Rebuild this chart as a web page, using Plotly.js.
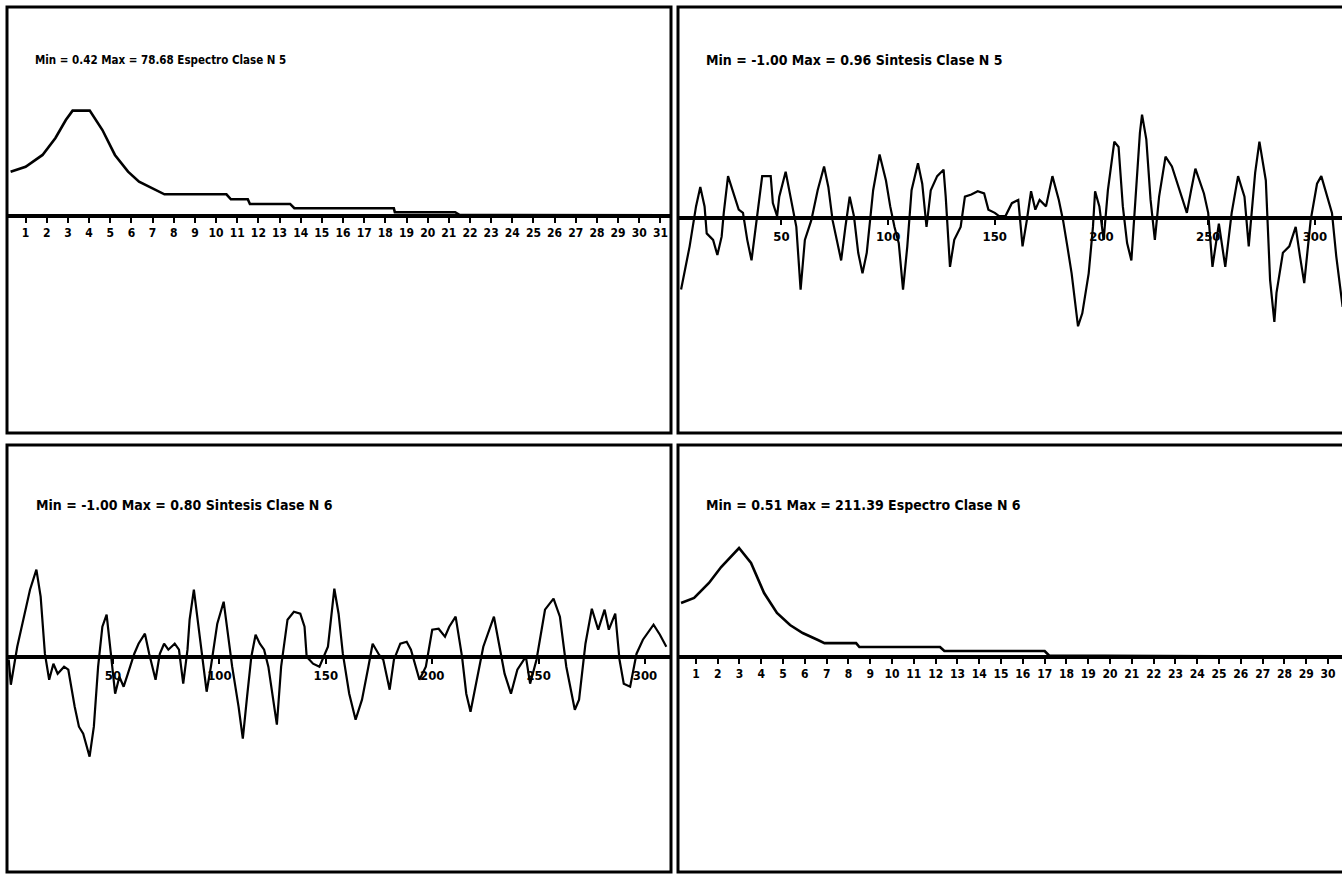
<!DOCTYPE html>
<html><head><meta charset="utf-8">
<script src="https://cdn.plot.ly/plotly-3.0.1.min.js"></script>
<style>html,body{margin:0;padding:0;background:#fff;overflow:hidden}</style>
</head><body><div id="chart" style="width:1342px;height:874px"></div>
<script>
// ---------- data ----------
const titles = [
  "Min = 0.42 Max = 78.68 Espectro Clase N 5",
  "Min = -1.00 Max = 0.96 Sintesis Clase N 5",
  "Min = -1.00 Max = 0.80 Sintesis Clase N 6",
  "Min = 0.51 Max = 211.39 Espectro Clase N 6"
];
// Espectro Clase N 5 (top left)
const spec5X = [0.29,1.0,1.8,2.41,2.9,3.22,4.03,4.63,5.22,5.84,6.36,6.85,7.25,7.56,10.49,10.7,11.5,11.6,13.5,13.7,18.4,18.45,21.3,21.5,31.4];
const spec5Y = [33.1,36.8,45.6,58.3,71.7,78.68,78.68,64.2,45.6,33.1,25.6,21.9,18.9,16.2,16.2,12.5,12.5,9.0,9.0,5.8,5.8,2.8,2.8,0.9,0.42];
// Espectro Clase N 6 (bottom right)
const spec6X = [0.32,0.92,1.6,2.16,2.98,3.53,4.13,4.72,5.32,5.9,6.6,6.9,8.35,8.5,12.2,12.4,17.0,17.2,30.7];
const spec6Y = [104.7,114.4,143.5,174.5,211.39,182.3,124,85.3,62,46.5,33,27,27,19.4,19.4,11.6,11.6,3,0.51];
// Sintesis Clase N 5 (top right)
const sin5X = [3,7,10,12,14,15,18,20,22,23,
 25,28,30,32,34,36,38,40,41,45,
 46,48,49,52,55,57,59,61,64,67,
 70,72,74,78,80,82,84,86,88,90,
 93,96,99,101,103,105,107,109,111,114,
 116,118,120,123,126,127,129,131,134,136,
 139,142,145,147,150,152,155,158,161,163,
 165,167,169,171,174,177,180,182,184,186,
 189,191,194,196,197,199,201,203,206,208,
 210,212,214,216,218,219,221,223,225,227,
 230,233,236,238,240,242,244,248,250,252,
 255,258,261,264,267,269,272,274,277,279,
 281,282,285,288,291,293,295,298,301,303,
 305,308,310,313];
const sin5Y = [-0.66,-0.26,0.11,0.29,0.11,-0.14,-0.20,-0.34,-0.17,0.05,
 0.39,0.20,0.08,0.05,-0.20,-0.39,-0.08,0.23,0.39,0.39,
 0.14,0.02,0.20,0.43,0.11,-0.08,-0.66,-0.20,-0.02,0.26,
 0.48,0.29,-0.02,-0.39,-0.08,0.20,0.02,-0.32,-0.51,-0.32,
 0.26,0.59,0.35,0.11,-0.08,-0.23,-0.66,-0.26,0.26,0.51,
 0.32,-0.08,0.26,0.39,0.45,0.20,-0.45,-0.20,-0.08,0.20,
 0.22,0.25,0.23,0.08,0.05,0.02,0.02,0.14,0.17,-0.26,
 -0.02,0.25,0.08,0.17,0.11,0.39,0.17,-0.02,-0.26,-0.51,
 -1.00,-0.88,-0.51,-0.08,0.25,0.11,-0.20,0.26,0.71,0.66,
 0.11,-0.23,-0.39,0.17,0.79,0.96,0.73,0.17,-0.20,0.20,
 0.57,0.48,0.29,0.17,0.05,0.26,0.46,0.23,0.05,-0.45,
 -0.05,-0.45,0.05,0.39,0.20,-0.26,0.42,0.71,0.35,-0.57,
 -0.96,-0.69,-0.32,-0.26,-0.08,-0.35,-0.60,-0.02,0.32,0.39,
 0.26,0.05,-0.35,-0.82];
// Sintesis Clase N 6 (bottom left)
const sin6X = [1,2,5,8,11,14,16,18,20,22,
 24,27,29,32,34,36,39,41,43,45,
 47,49,51,53,55,57,60,62,65,67,
 70,72,74,76,79,81,83,85,86,88,
 90,92,94,96,99,102,104,106,109,111,
 113,115,117,119,121,123,127,129,132,135,
 138,140,141,144,147,151,154,156,158,161,
 164,167,170,172,175,177,180,182,185,188,
 190,192,194,197,200,203,206,208,211,214,
 216,218,221,224,229,231,234,237,240,244,
 246,249,253,257,260,263,267,269,272,275,
 278,281,283,286,288,290,293,296,299,304,
 307,310];
const sin6Y = [-0.03,-0.28,0.10,0.37,0.67,0.87,0.60,0.03,-0.23,-0.07,
 -0.17,-0.10,-0.13,-0.50,-0.70,-0.77,-1.00,-0.70,-0.10,0.30,
 0.42,0.03,-0.37,-0.20,-0.30,-0.17,0.03,0.13,0.23,0.03,
 -0.23,0.03,0.13,0.07,0.13,0.07,-0.27,0.07,0.37,0.67,
 0.33,-0.03,-0.35,-0.10,0.33,0.55,0.20,-0.10,-0.50,-0.82,
 -0.40,0.00,0.22,0.13,0.07,-0.10,-0.68,-0.10,0.37,0.45,
 0.43,0.30,0.00,-0.07,-0.10,0.10,0.68,0.43,0.03,-0.37,
 -0.63,-0.43,-0.10,0.13,0.02,-0.03,-0.33,-0.03,0.13,0.15,
 0.07,-0.07,-0.23,-0.10,0.27,0.28,0.20,0.30,0.40,0.00,
 -0.37,-0.55,-0.23,0.10,0.40,0.17,-0.17,-0.37,-0.13,0.00,
 -0.27,-0.03,0.47,0.58,0.40,-0.10,-0.53,-0.43,0.13,0.48,
 0.27,0.47,0.27,0.43,-0.03,-0.27,-0.30,0.03,0.17,0.32,
 0.22,0.10];
// tick labels
const specTicks5 = [1,2,3,4,5,6,7,8,9,10,11,12,13,14,15,16,17,18,19,20,21,22,23,24,25,26,27,28,29,30,31];
const specTicks6 = [1,2,3,4,5,6,7,8,9,10,11,12,13,14,15,16,17,18,19,20,21,22,23,24,25,26,27,28,29,30];
const timeTicks = [50,100,150,200,250,300];

// ---------- layout helpers ----------
const W = 1342, H = 874;
const fx = p => p / W, fy = p => 1 - p / H;
const FONT = "'DejaVu Sans Condensed', 'Liberation Sans Narrow', 'Roboto Condensed', 'DejaVu Sans', sans-serif";

function xax(dom, range, zeroPy, ticks, size) {
  return {
    domain: [fx(dom[0]), fx(dom[1])], range: range,
    anchor: 'free', position: fy(zeroPy),
    showline: true, linewidth: 4, linecolor: '#000',
    ticks: 'outside', ticklen: 5, tickwidth: 2, tickcolor: '#000',
    tickmode: 'array', tickvals: ticks, ticktext: ticks.map(String),
    tickfont: {family: FONT, size: size, color: '#000', weight: 'bold'},
    showgrid: false, zeroline: false, fixedrange: true
  };
}
function yax(dom, range, anchor) {
  return {domain: [fy(dom[1]), fy(dom[0])], range: range, anchor: anchor,
    visible: false, showgrid: false, zeroline: false, fixedrange: true};
}

const line = {color: '#000', width: 2.2};
const data = [
  {x: spec5X, y: spec5Y, xaxis: 'x', yaxis: 'y', mode: 'lines', line: {color:'#000', width: 2.6}},
  {x: sin5X, y: sin5Y, xaxis: 'x2', yaxis: 'y2', mode: 'lines', line: line},
  {x: sin6X, y: sin6Y, xaxis: 'x3', yaxis: 'y3', mode: 'lines', line: line},
  {x: spec6X, y: spec6Y, xaxis: 'x4', yaxis: 'y4', mode: 'lines', line: {color:'#000', width: 2.6}}
];

const borders = [];
function rect(x0, y0, x1, y1) {
  borders.push({type: 'rect', xref: 'paper', yref: 'paper',
    x0: fx(x0), x1: fx(x1), y0: fy(y1), y1: fy(y0),
    line: {color: '#000', width: 3}, fillcolor: 'rgba(0,0,0,0)', layer: 'above'});
}
rect(7, 7, 671, 433);
rect(678, 7, 1360, 433);
rect(7, 445, 671, 872);
rect(678, 445, 1360, 872);

const titlePos = [[33, 60], [704, 60], [34, 505], [704, 505]];
const titleSize = [11.5, 14, 14, 14];
const annotations = titles.map((t, i) => ({
  text: t, xref: 'paper', yref: 'paper', x: fx(titlePos[i][0]), y: fy(titlePos[i][1]),
  xanchor: 'left', yanchor: 'middle', showarrow: false,
  font: {family: FONT, size: titleSize[i], color: '#000', weight: 'bold'}
}));

const layout = {
  width: W, height: H, margin: {l: 0, r: 0, t: 0, b: 0},
  paper_bgcolor: '#fff', plot_bgcolor: '#fff', showlegend: false,
  xaxis:  xax([7, 671], [0.12, 31.5], 216, specTicks5, 12),
  yaxis:  yax([7, 433], [-162.1, 156.1], 'x'),
  xaxis2: xax([678, 1342], [1.55, 312.7], 218, timeTicks, 13),
  yaxis2: yax([7, 433], [-1.988, 1.956], 'x2'),
  xaxis3: xax([7, 671], [0.19, 312.2], 657, timeTicks, 13),
  yaxis3: yax([445, 872], [-2.153, 2.117], 'x3'),
  xaxis4: xax([678, 1342], [0.18, 30.64], 657, specTicks6, 12),
  yaxis4: yax([445, 872], [-416.9, 411.1], 'x4'),
  shapes: borders, annotations: annotations
};
Plotly.newPlot('chart', data, layout, {staticPlot: true, displayModeBar: false});
</script></body></html>
